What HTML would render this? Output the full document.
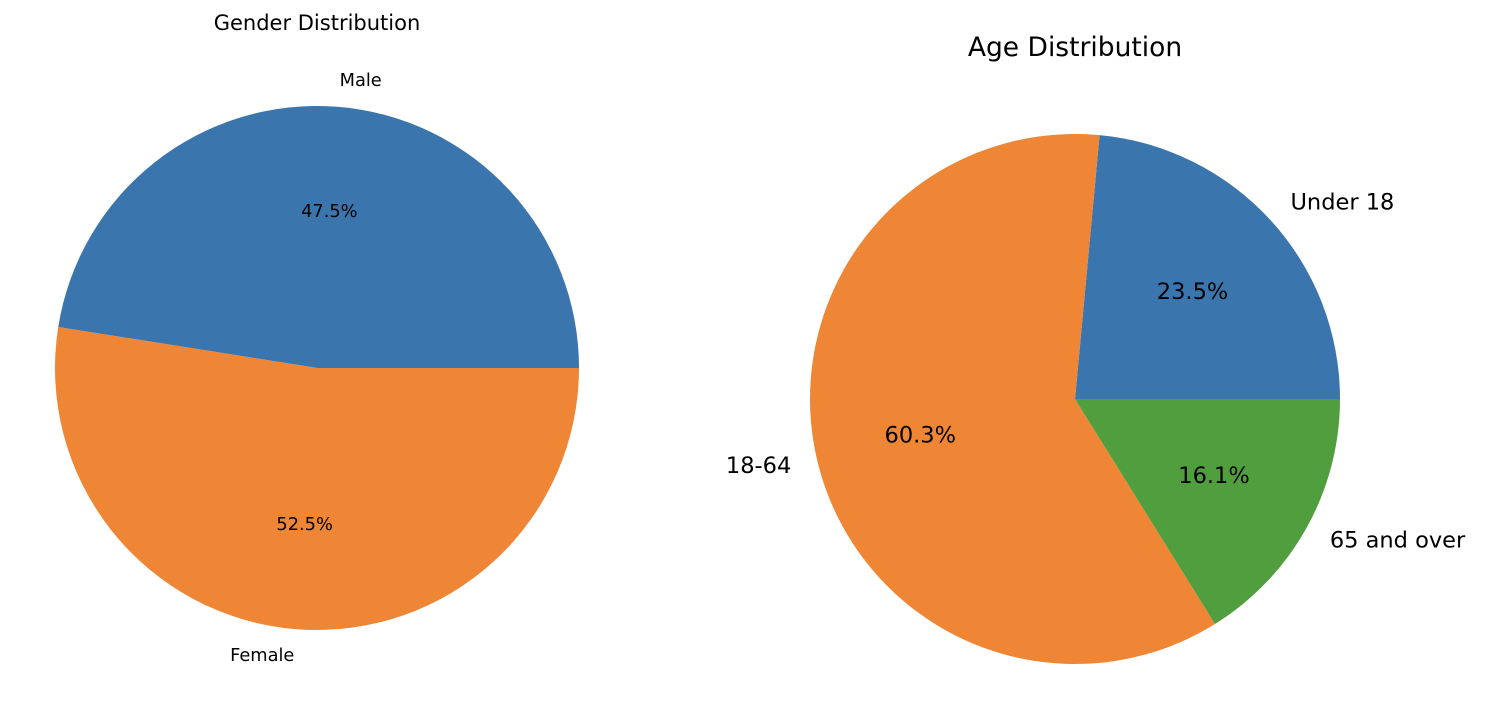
<!DOCTYPE html>
<html><head><meta charset="utf-8"><style>
body{margin:0;background:#fff}
svg{display:block;font-family:"DejaVu Sans","Liberation Sans",sans-serif}
</style></head><body>
<svg id="chart" width="1498" height="726" viewBox="0 0 1498 726">
<text x="317" y="30" font-size="21" text-anchor="middle" fill="#000">Gender Distribution</text>
<text x="1075" y="56" font-size="26.5" text-anchor="middle" fill="#000">Age Distribution</text>
</svg>
<script>
const genderLabels = ["Male", "Female"];
const genderValues = [47.5, 52.5];
const ageLabels = ["Under 18", "18-64", "65 and over"];
const ageValues = [23.52, 60.34, 16.14];
const colors = ["#3a75ae", "#ee8636", "#519e3e"];
const NS = "http://www.w3.org/2000/svg";
const svg = document.getElementById("chart");
function drawPie(labels, values, cx, cy, r, fs, prefix) {
  const total = values.reduce((a, b) => a + b, 0);
  let a0 = 0;
  values.forEach((v, i) => {
    const sweep = v / total * 2 * Math.PI;
    const a1 = a0 + sweep;
    const x0 = cx + r * Math.cos(a0), y0 = cy - r * Math.sin(a0);
    const x1 = cx + r * Math.cos(a1), y1 = cy - r * Math.sin(a1);
    const p = document.createElementNS(NS, "path");
    p.setAttribute("d", `M${cx},${cy} L${x0},${y0} A${r},${r} 0 ${sweep > Math.PI ? 1 : 0} 0 ${x1},${y1} Z`);
    p.setAttribute("fill", colors[i]);
    
    
    svg.appendChild(p);
    const mid = (a0 + a1) / 2;
    const lx = cx + 1.1 * r * Math.cos(mid), ly = cy - 1.1 * r * Math.sin(mid);
    const t = document.createElementNS(NS, "text");
    t.setAttribute("x", lx); t.setAttribute("y", ly);
    t.setAttribute("font-size", fs);
    t.setAttribute("dominant-baseline", "central");
    t.setAttribute("text-anchor", Math.cos(mid) >= 0 ? "start" : "end");
    t.textContent = labels[i];
    
    
    svg.appendChild(t);
    const px = cx + 0.6 * r * Math.cos(mid), py = cy - 0.6 * r * Math.sin(mid);
    const pt = document.createElementNS(NS, "text");
    pt.setAttribute("x", px); pt.setAttribute("y", py);
    pt.setAttribute("font-size", fs);
    pt.setAttribute("dominant-baseline", "central");
    pt.setAttribute("text-anchor", "middle");
    pt.textContent = (v / total * 100).toFixed(1) + "%";
    
    
    svg.appendChild(pt);
    a0 = a1;
  });
}
drawPie(genderLabels, genderValues, 317, 368, 262, 17.8, "gender");
drawPie(ageLabels, ageValues, 1075, 399, 265, 22.5, "age");
</script>
</body></html>
